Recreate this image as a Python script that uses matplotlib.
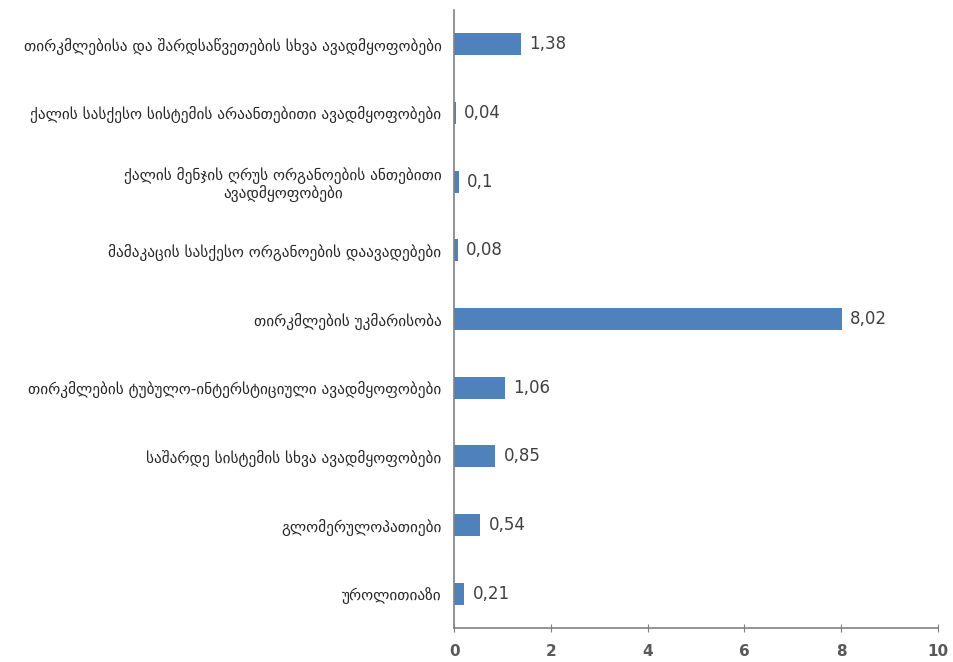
import matplotlib.pyplot as plt

# categories listed top to bottom
labels = [
    "თირკმლებისა და შარდსაწვეთების სხვა ავადმყოფობები",
    "ქალის სასქესო სისტემის არაანთებითი ავადმყოფობები",
    "ქალის მენჯის ღრუს ორგანოების ანთებითი\nავადმყოფობები",
    "მამაკაცის სასქესო ორგანოების დაავადებები",
    "თირკმლების უკმარისობა",
    "თირკმლების ტუბულო-ინტერსტიციული ავადმყოფობები",
    "საშარდე სისტემის სხვა ავადმყოფობები",
    "გლომერულოპათიები",
    "უროლითიაზი",
]
values = [1.38, 0.04, 0.1, 0.08, 8.02, 1.06, 0.85, 0.54, 0.21]
xticks = [0, 2, 4, 6, 8, 10]

fig = plt.figure(figsize=(9.54, 6.62), dpi=100)
ax = fig.add_axes([0.476, 0.051, 0.507, 0.934])

pos = list(range(len(values)))[::-1]
ax.barh(pos, values, height=0.32, color="#4F81BD")

for p, v in zip(pos, values):
    ax.text(v + 0.17, p, f"{v:g}".replace(".", ","), va="center", ha="left",
            fontsize=12, color="#404040")

ax.set_xlim(0, 10)
ax.set_ylim(-0.5, len(values) - 0.5)
ax.set_xticks(xticks)
ax.set_xticklabels([str(t) for t in xticks], fontsize=11, fontweight="bold", color="#595959")
ax.set_yticks(pos)
ax.set_yticklabels(labels, fontsize=11, color="#262626", multialignment="center",
                   linespacing=1.1)
ax.tick_params(axis="y", length=0, pad=9)
ax.tick_params(axis="x", direction="inout", length=6, color="#808080", pad=8)

for s in ["top", "right"]:
    ax.spines[s].set_visible(False)
for s in ["left", "bottom"]:
    ax.spines[s].set_color("#808080")
    ax.spines[s].set_linewidth(1.2)

fig.savefig("out.png", dpi=100)
